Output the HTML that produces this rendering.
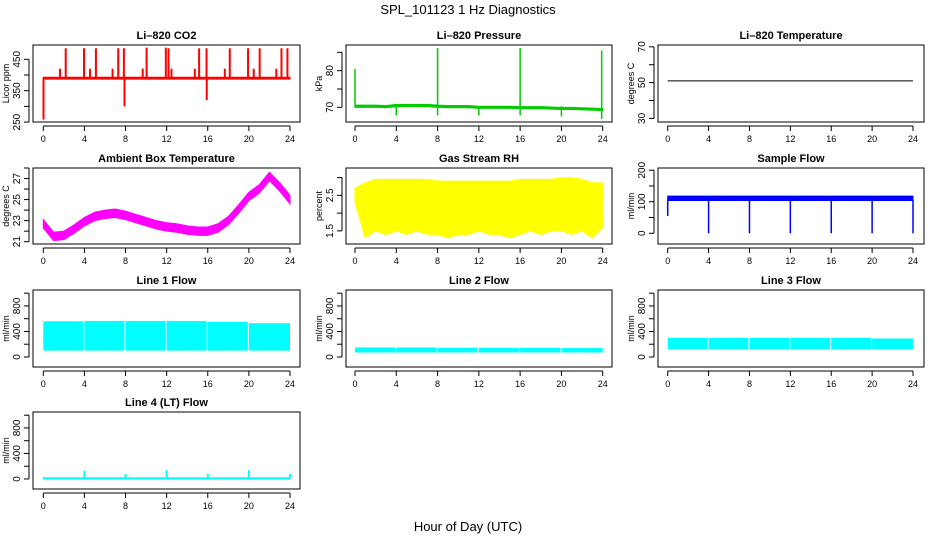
<!DOCTYPE html>
<html><head><meta charset="utf-8">
<style>
body{margin:0;background:#fff;}
svg{display:block;font-family:"Liberation Sans",Arial,sans-serif;}
</style></head>
<body>
<svg id="c" width="936" height="540" viewBox="0 0 936 540" xmlns="http://www.w3.org/2000/svg">
<text x="468" y="14" font-size="13" text-anchor="middle">SPL_101123  1 Hz Diagnostics</text>
<text x="468" y="531" font-size="13" text-anchor="middle">Hour of Day (UTC)</text>
</svg>
<script>
// ---- data ----
const xTicks = [0,4,8,12,16,20,24];
const hours = [0,1,2,3,4,5,6,7,8,9,10,11,12,13,14,15,16,17,18,19,20,21,22,23,24];
const co2Base = 390;
const co2SpikeHours = [2.18,3.96,5.12,7.29,7.84,10.05,11.92,12.18,15.16,15.88,18.14,19.92,21.05,23.17,23.75,1.62,4.54,6.74,9.67,12.47,14.74,17.66,20.47,22.67,0.02,7.9,15.9];
const co2SpikeVals = [485,485,485,485,485,487,487,485,485,485,485,485,485,485,485,420,420,420,420,420,420,420,420,420,258,300,320];
const presBase = [70.3,70.3,70.3,70.2,70.5,70.5,70.5,70.5,70.3,70.2,70.2,70.2,70.0,70.0,70.0,70.0,69.9,69.9,69.9,69.8,69.7,69.7,69.6,69.5,69.4];
const presSpikeHours = [0,8,16,23.9,4,8,12,16,20,23.9];
const presSpikeVals = [80.5,86.2,86.2,85.5,67.8,67.8,67.8,67.8,67.5,66.8];
const tempVal = 51;
const ambMid = [22.7,21.5,21.6,22.2,22.9,23.4,23.6,23.7,23.5,23.2,22.9,22.6,22.4,22.3,22.1,22.0,22.0,22.3,23.0,24.1,25.3,26.0,27.2,26.2,25.0];
const rhHi = [2.7,2.85,2.95,2.95,2.95,2.95,2.95,2.95,2.9,2.9,2.9,2.9,2.9,2.9,2.9,2.9,2.95,2.95,2.95,2.95,3.0,3.0,2.95,2.85,2.85];
const rhLo = [2.3,1.3,1.5,1.4,1.5,1.4,1.5,1.4,1.4,1.3,1.4,1.4,1.5,1.4,1.4,1.3,1.4,1.5,1.4,1.5,1.5,1.4,1.5,1.3,1.6];
const sfHi = 118, sfLo = 104;
const sfDipHours = [0,4,8,12,16,20,24];
const sfDipVals = [55,0,0,0,0,0,0];
const segStarts = [0,4,8,12,16,20];
const segEnds = [3.9,7.9,11.9,15.9,19.9,24];
const l1Hi = [560,565,565,565,550,530];
const l1Lo = [100,100,100,100,100,100];
const l2Hi = [150,150,145,145,145,140];
const l2Lo = [70,70,70,70,70,70];
const l3Hi = [300,300,300,300,300,290];
const l3Lo = [120,120,120,120,120,120];
const l4SpikeHours = [4,8,12,16,20,24];
const l4SpikeVals = [130,80,140,80,140,80];
const l4Hi = 20, l4Lo = 0;

// ---- layout ----
const svg = document.getElementById('c');
const NS = 'http://www.w3.org/2000/svg';
const cols = [{x0:33,x1:300,d0:43.3,d1:290},{x0:346,x1:612,d0:355,d1:602.7},{x0:658,x1:924,d0:667.7,d1:913}];
const rows = [{t:45,b:122},{t:168,b:244},{t:290,b:367},{t:412,b:489}];
function mk(tag, attrs, parent){const e=document.createElementNS(NS,tag);for(const k in attrs)e.setAttribute(k,attrs[k]);(parent||svg).appendChild(e);return e;}

function panel(ci, ri, title, ylab, vTop, vBot, ticks, labels, name){
  const c=cols[ci], r=rows[ri];
  const g=mk('g',{});
  
  
  const sx=h=>c.d0+(h/24)*(c.d1-c.d0);
  const sy=v=>r.t+(vTop-v)/(vTop-vBot)*(r.b-r.t);
  const t=mk('text',{x:(c.x0+c.x1)/2,y:r.t-6,'font-size':11,'font-weight':'bold','text-anchor':'middle'},g);
  t.textContent=title;
  
  
  const ax=mk('g',{stroke:'#000','stroke-width':1,fill:'none'},g);
  mk('line',{x1:c.d0,x2:c.d1,y1:r.b+4,y2:r.b+4},ax);
  xTicks.forEach(h=>{
    mk('line',{x1:sx(h),x2:sx(h),y1:r.b+4,y2:r.b+9},ax);
    const l=mk('text',{x:sx(h),y:r.b+20,'font-size':9,'text-anchor':'middle'},g);
    l.textContent=h;
    
    
  });
  const yt=ticks.map(sy);
  mk('line',{x1:c.x0-4,x2:c.x0-4,y1:Math.min(...yt),y2:Math.max(...yt)},ax);
  ticks.forEach(v=>{mk('line',{x1:c.x0-9,x2:c.x0-4,y1:sy(v),y2:sy(v)},ax);});
  labels.forEach(v=>{
    const l=mk('text',{x:0,y:0,'font-size':10,'text-anchor':'middle',transform:`translate(${c.x0-13},${sy(v)}) rotate(-90)`},g);
    l.textContent=v;
    
    
  });
  const yl=mk('text',{x:0,y:0,'font-size':9,'text-anchor':'middle',transform:`translate(${c.x0-24},${(r.t+r.b)/2}) rotate(-90)`},g);
  yl.textContent=ylab;
  
  
  mk('rect',{x:c.x0,y:r.t,width:c.x1-c.x0,height:r.b-r.t,fill:'none',stroke:'#000'},g);
  return {g,sx,sy};
}
function band(p, hs, lo, hi, color, name){
  let pts=hs.map((h,i)=>p.sx(h)+','+p.sy(hi[i]));
  pts=pts.concat(hs.map((h,i)=>p.sx(h)+','+p.sy(lo[i])).reverse());
  const e=mk('polygon',{points:pts.join(' '),fill:color,stroke:color},p.g);
  
  
}
function spikes(p, hs, base, vals, color, w, name){
  hs.forEach((h,i)=>{
    const e=mk('line',{x1:p.sx(h),x2:p.sx(h),y1:p.sy(base),y2:p.sy(vals[i]),stroke:color,'stroke-width':w},p.g);
    
    
  });
}
function segs(p, hi, lo, color, name){
  segStarts.forEach((s,i)=>{
    const x0=p.sx(s), x1=p.sx(segEnds[i]);
    const e=mk('rect',{x:x0,y:p.sy(hi[i]),width:x1-x0,height:p.sy(lo[i])-p.sy(hi[i]),fill:color},p.g);
    
    
  });
}

// CO2
let p=panel(0,0,'Li\u2013820 CO2','Licor ppm',495.5,250.3,[250,300,350,400,450],[250,350,450],'co2');
spikes(p,co2SpikeHours,co2Base,co2SpikeVals,'#f00',2,'co2-spike');
band(p,[0,24],[co2Base-3,co2Base-3],[co2Base+3,co2Base+3],'#f00','co2-line');
// Pressure
p=panel(1,0,'Li\u2013820 Pressure','kPa',87,66,[70,75,80,85],[70,80],'pressure');
band(p,hours,presBase.map(v=>v-0.3),presBase.map(v=>v+0.3),'#0c0','pressure-line');
spikes(p,presSpikeHours,presBase[0],presSpikeVals,'#0c0',1.5,'pressure-spike');
// Temperature
p=panel(2,0,'Li\u2013820 Temperature','degrees C',71,28,[30,40,50,60,70],[30,50,70],'temperature');
band(p,[0,24],[tempVal,tempVal],[tempVal,tempVal],'#000','temperature-line');
// Ambient
p=panel(0,1,'Ambient Box Temperature','degrees C',28,20.78,[21,22,23,24,25,26,27,28],[21,23,25,27],'ambient');
band(p,hours,ambMid.map(v=>v-0.4),ambMid.map(v=>v+0.4),'#f0f','ambient-band');
// RH
p=panel(1,1,'Gas Stream RH','percent',3.27,1.13,[1.5,2,2.5,3],[1.5,2.5],'rh');
band(p,hours,rhLo,rhHi,'#ff0','rh-band');
// Sample flow
p=panel(2,1,'Sample Flow','ml/min',207,-34,[0,50,100,150,200],[0,100,200],'sample-flow');
band(p,[0,24],[sfLo,sfLo],[sfHi,sfHi],'#00f','sample-flow-band');
spikes(p,sfDipHours,sfLo,sfDipVals,'#00f',1.5,'sample-flow-dip');
// Line flows
p=panel(0,2,'Line 1 Flow','ml/min',1050,-157,[0,200,400,600,800,1000],[0,400,800],'line1');
segs(p,l1Hi,l1Lo,'#0ff','line1-band');
p=panel(1,2,'Line 2 Flow','ml/min',1050,-157,[0,200,400,600,800,1000],[0,400,800],'line2');
segs(p,l2Hi,l2Lo,'#0ff','line2-band');
p=panel(2,2,'Line 3 Flow','ml/min',1050,-157,[0,200,400,600,800,1000],[0,400,800],'line3');
segs(p,l3Hi,l3Lo,'#0ff','line3-band');
p=panel(0,3,'Line 4 (LT) Flow','ml/min',1050,-157,[0,200,400,600,800,1000],[0,400,800],'line4');
band(p,[0,24],[l4Lo,l4Lo],[l4Hi,l4Hi],'#0ff','line4-band');
spikes(p,l4SpikeHours,l4Hi,l4SpikeVals,'#0ff',2,'line4-spike');
</script>
</body></html>
